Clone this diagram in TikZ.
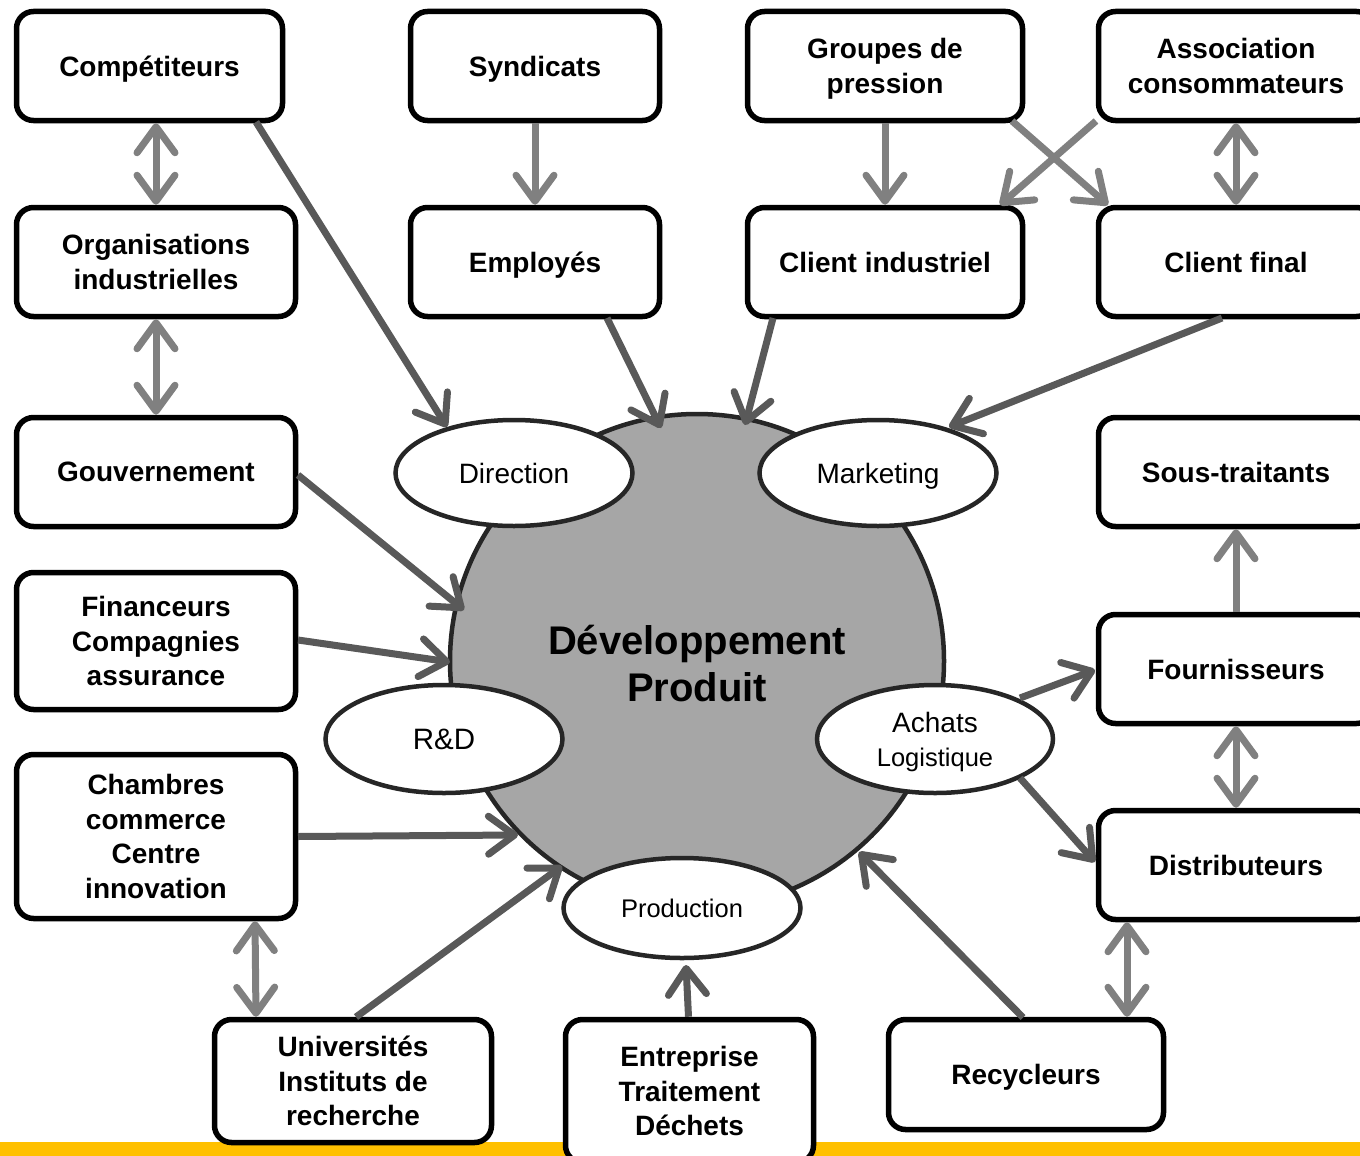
\documentclass[tikz,border=0pt]{standalone}
\usepackage{fontspec}
\setmainfont{Liberation Sans}
\usetikzlibrary{arrows.meta,calc,shapes.geometric}
\definecolor{darkarr}{HTML}{595959}
\definecolor{lightarr}{HTML}{808080}
\definecolor{devfill}{HTML}{A6A6A6}
\definecolor{rim}{HTML}{262626}
\definecolor{barY}{HTML}{FFC000}
\begin{document}
\begin{tikzpicture}[x=1pt,y=-1pt,
  box/.style={draw=black, line width=5.5pt, rounded corners=17pt, fill=white, align=center, inner sep=0pt, text depth=0pt, font=\bfseries\fontsize{28}{34.5}\selectfont},
  oval/.style={ellipse, draw=rim, line width=4.5pt, fill=white, inner sep=0pt, align=center, text depth=0pt, font=\fontsize{28}{34}\selectfont},
  dk/.style={draw=darkarr, line width=7pt},
  lt/.style={draw=lightarr, line width=7pt},
  >={Straight Barb[length=26pt,width=38pt,round]}]
\useasboundingbox (0,0) rectangle (1360,1156);
\clip (0,0) rectangle (1360,1156);
\fill[white] (0,0) rectangle (1360,1156);
\fill[barY] (0,1142) rectangle (1360,1156);

% centre
\node[circle, draw=rim, fill=devfill, line width=4.5pt, minimum size=494pt, inner sep=0pt] (dev) at (697,661) {};
\node[font=\bfseries\fontsize{40}{47}\selectfont, align=center] (devtxt) at (697,664) {Développement\\Produit};

% ellipses
\node[oval, minimum width=237pt, minimum height=106pt] (dir) at (514,473) {Direction};
\node[oval, minimum width=237pt, minimum height=106pt] (mkt) at (878,473) {Marketing};
\node[oval, minimum width=237pt, minimum height=108pt, font=\fontsize{29.5}{34}\selectfont] (rd) at (444,739) {R\&D};
\node[oval, minimum width=236pt, minimum height=108pt] (ach) at (935,739) {Achats\\\fontsize{25.5}{34}\selectfont Logistique};
\node[oval, minimum width=237pt, minimum height=100pt, font=\fontsize{25.5}{30}\selectfont] (prod) at (682,908) {Production};

% boxes
\node[box, minimum width=266pt, minimum height=109pt] (comp) at (149.5,66) {Compétiteurs};
\node[box, minimum width=249pt, minimum height=109pt] (synd) at (535,66) {Syndicats};
\node[box, minimum width=275pt, minimum height=109pt] (grp) at (885,66) {Groupes de\\pression};
\node[box, minimum width=275pt, minimum height=109pt] (asso) at (1236,66) {Association\\consommateurs};
\node[box, minimum width=279pt, minimum height=109pt] (org) at (156,262) {Organisations\\industrielles};
\node[box, minimum width=249pt, minimum height=109pt] (empl) at (535,262) {Employés};
\node[box, minimum width=275pt, minimum height=109pt] (cind) at (885,262) {Client industriel};
\node[box, minimum width=275pt, minimum height=109pt] (cfin) at (1236,262) {Client final};
\node[box, minimum width=279pt, minimum height=109pt] (gouv) at (156,472) {Gouvernement};
\node[box, minimum width=275pt, minimum height=109pt] (sous) at (1236,472) {Sous-traitants};
\node[box, minimum width=279pt, minimum height=137pt] (fin) at (156,641) {Financeurs\\Compagnies\\assurance};
\node[box, minimum width=275pt, minimum height=109pt] (four) at (1236,669) {Fournisseurs};
\node[box, minimum width=279pt, minimum height=164pt] (cham) at (156,836.5) {Chambres\\commerce\\Centre\\innovation};
\node[box, minimum width=275pt, minimum height=109pt] (dist) at (1236,865) {Distributeurs};
\node[box, minimum width=277pt, minimum height=123pt] (univ) at (353,1081) {Universités\\Instituts de\\recherche};
\node[box, minimum width=248pt, minimum height=143pt] (entr) at (689.5,1091) {Entreprise\\Traitement\\Déchets};
\node[box, minimum width=275pt, minimum height=110pt] (recy) at (1026,1074.5) {Recycleurs};

% dark arrows
\draw[dk,->] ($(comp.center)+(106.5,56)$) -- ($(dir.center)+(-67,-46)$);
\draw[dk,->] ($(empl.center)+(72,56)$) -- ($(dev.center)+(-36,-233)$);
\draw[dk,->] ($(cind.center)+(-112,56)$) -- ($(dev.center)+(48,-236)$);
\draw[dk,->] ($(cfin.center)+(-14,56)$) -- ($(mkt.center)+(71,-46)$);
\draw[dk,->] ($(gouv.center)+(142,3)$) -- ($(dev.center)+(-233,-51)$);
\draw[dk,->] ($(fin.center)+(142,-1)$) -- ($(dev.center)+(-247,1)$);
\draw[dk,->] ($(cham.center)+(142,0)$) -- ($(dev.center)+(-179,174)$);
\draw[dk,->] ($(univ.center)+(3,-64)$) -- ($(dev.center)+(-135,205)$);
\draw[dk,->] ($(entr.north)+(-1,0)$) -- ($(prod.center)+(4,57)$);
\draw[dk,->] ($(recy.center)+(-3,-57)$) -- ($(dev.center)+(162,191)$);
\draw[dk,->] ($(ach.center)+(85,-41)$) -- ($(four.center)+(-141,1)$);
\draw[dk,->] ($(ach.center)+(85,39)$) -- ($(dist.center)+(-141,-3)$);

% light arrows
\draw[lt,<->] (org.north |- comp.south) -- (org.north);
\draw[lt,<->] (org.south) -- (gouv.north);
\draw[lt,->] (synd.south) -- (empl.north);
\draw[lt,->] (grp.south) -- (cind.north);
\draw[lt,->] ($(grp.center)+(127,55)$) -- ($(cfin.center)+(-128,-57)$);
\draw[lt,->] ($(asso.center)+(-140,55)$) -- ($(cind.center)+(115,-57)$);
\draw[lt,<->] (asso.south) -- (cfin.north);
\draw[lt,->] (four.north) -- (sous.south);
\draw[lt,<->] (four.south) -- (dist.north);
\draw[lt,<->] ($(cham.south)+(99,0)$) -- ($(univ.north)+(-97,0)$);
\draw[lt,<->] ($(dist.south)+(-109,0)$) -- ($(recy.north)+(101,0)$);
\end{tikzpicture}
\end{document}
